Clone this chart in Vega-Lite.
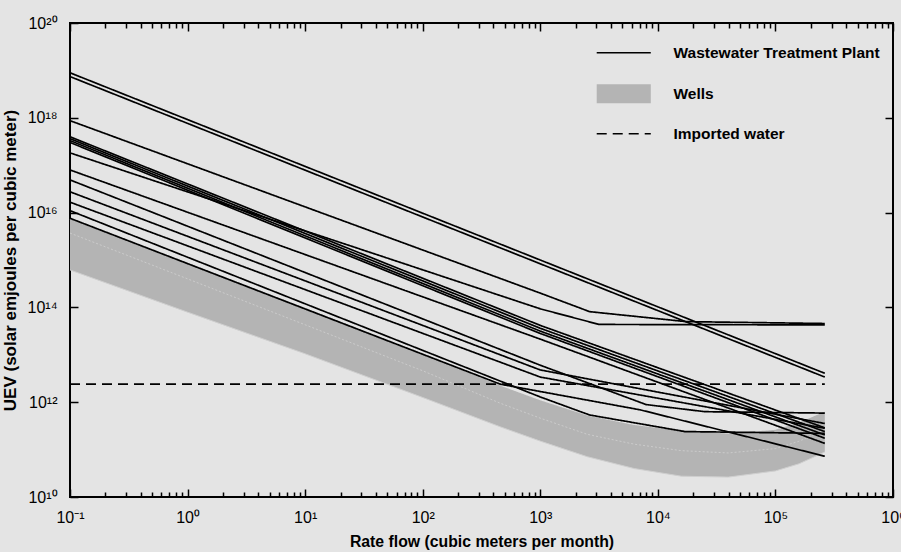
{
  "$schema": "https://vega.github.io/schema/vega-lite/v6.json",
  "width": 823,
  "height": 474,
  "autosize": {"type": "none"},
  "padding": {"left": 70, "top": 23, "right": 8, "bottom": 55},
  "background": "#e4e4e4",
  "config": {
    "view": {"stroke": "black", "strokeWidth": 2, "fill": "#e4e4e4"},
    "font": "Liberation Sans, Arial, sans-serif",
    "axis": {"domain": false, "grid": false, "tickColor": "black", "tickWidth": 1.5, "labelColor": "black", "titleColor": "black", "labelOverlap": false, "labelFlush": false}
  },
  "datasets": {
    "band": [
      {"x": 0.1, "lo": 6.17e14, "hi": 7.24e15, "streak": 3.7e15},
      {"x": 1, "lo": 7.94e13, "hi": 8.32e14, "streak": 4.0e14},
      {"x": 10, "lo": 1.05e13, "hi": 9.33e13, "streak": 4.3e13},
      {"x": 100, "lo": 1.26e12, "hi": 1.0e13, "streak": 4.6e12},
      {"x": 457, "lo": 3.02e11, "hi": 2.14e12, "streak": 9.5e11},
      {"x": 1000, "lo": 1.51e11, "hi": 1.05e12, "streak": 4.6e11},
      {"x": 2512, "lo": 7.08e10, "hi": 5.01e11, "streak": 2.1e11},
      {"x": 6310, "lo": 3.98e10, "hi": 3.16e11, "streak": 1.3e11},
      {"x": 15850, "lo": 2.75e10, "hi": 2.4e11, "streak": 9.5e10},
      {"x": 39810, "lo": 2.63e10, "hi": 2.09e11, "streak": 8.5e10},
      {"x": 100000, "lo": 3.55e10, "hi": 2.51e11, "streak": 1.05e11},
      {"x": 158500, "lo": 5.01e10, "hi": 3.55e11, "streak": 1.5e11},
      {"x": 263000, "lo": 8.91e10, "hi": 6.03e11, "streak": 2.6e11}
    ],
    "lines": [
      {"series": "Wells", "id": "W1", "x": 0.1, "y": 7.24e15},
      {"series": "Wells", "id": "W1", "x": 1, "y": 8.32e14},
      {"series": "Wells", "id": "W1", "x": 10, "y": 9.33e13},
      {"series": "Wells", "id": "W1", "x": 100, "y": 1.0e13},
      {"series": "Wells", "id": "W1", "x": 457, "y": 2.14e12},
      {"series": "Wells", "id": "W1", "x": 1000, "y": 1.05e12},
      {"series": "Wells", "id": "W1", "x": 2512, "y": 5.01e11},
      {"series": "Wells", "id": "W1", "x": 6310, "y": 3.16e11},
      {"series": "Wells", "id": "W1", "x": 15850, "y": 2.4e11},
      {"series": "Wells", "id": "W1", "x": 39810, "y": 2.09e11},
      {"series": "Wells", "id": "W1", "x": 100000, "y": 2.51e11},
      {"series": "Wells", "id": "W1", "x": 158500, "y": 3.55e11},
      {"series": "Wells", "id": "W1", "x": 263000, "y": 6.03e11},
      {"series": "Imported water", "id": "IW", "x": 0.1, "y": 2.4e12},
      {"series": "Imported water", "id": "IW", "x": 263000, "y": 2.4e12},
      {"series": "Wastewater Treatment Plant", "id": "L1", "x": 0.1, "y": 8.91e18},
      {"series": "Wastewater Treatment Plant", "id": "L1", "x": 263000, "y": 4.07e12},
      {"series": "Wastewater Treatment Plant", "id": "L2", "x": 0.1, "y": 7.41e18},
      {"series": "Wastewater Treatment Plant", "id": "L2", "x": 263000, "y": 3.39e12},
      {"series": "Wastewater Treatment Plant", "id": "L3", "x": 0.1, "y": 8.71e17},
      {"series": "Wastewater Treatment Plant", "id": "L3", "x": 1000, "y": 2.0e14},
      {"series": "Wastewater Treatment Plant", "id": "L3", "x": 2630, "y": 8.13e13},
      {"series": "Wastewater Treatment Plant", "id": "L3", "x": 17400, "y": 5.01e13},
      {"series": "Wastewater Treatment Plant", "id": "L3", "x": 263000, "y": 4.57e13},
      {"series": "Wastewater Treatment Plant", "id": "L8", "x": 0.1, "y": 1.82e17},
      {"series": "Wastewater Treatment Plant", "id": "L8", "x": 1000, "y": 9.33e13},
      {"series": "Wastewater Treatment Plant", "id": "L8", "x": 3160, "y": 4.37e13},
      {"series": "Wastewater Treatment Plant", "id": "L8", "x": 263000, "y": 4.27e13},
      {"series": "Wastewater Treatment Plant", "id": "B1", "x": 0.1, "y": 3.98e17},
      {"series": "Wastewater Treatment Plant", "id": "B1", "x": 1000, "y": 4.17e13},
      {"series": "Wastewater Treatment Plant", "id": "B1", "x": 263000, "y": 2.88e11},
      {"series": "Wastewater Treatment Plant", "id": "B2", "x": 0.1, "y": 3.63e17},
      {"series": "Wastewater Treatment Plant", "id": "B2", "x": 1000, "y": 3.63e13},
      {"series": "Wastewater Treatment Plant", "id": "B2", "x": 263000, "y": 2.4e11},
      {"series": "Wastewater Treatment Plant", "id": "B3", "x": 0.1, "y": 3.31e17},
      {"series": "Wastewater Treatment Plant", "id": "B3", "x": 1000, "y": 3.16e13},
      {"series": "Wastewater Treatment Plant", "id": "B3", "x": 263000, "y": 2.04e11},
      {"series": "Wastewater Treatment Plant", "id": "B4", "x": 0.1, "y": 3.02e17},
      {"series": "Wastewater Treatment Plant", "id": "B4", "x": 1000, "y": 2.82e13},
      {"series": "Wastewater Treatment Plant", "id": "B4", "x": 263000, "y": 1.74e11},
      {"series": "Wastewater Treatment Plant", "id": "L9", "x": 0.1, "y": 7.94e16},
      {"series": "Wastewater Treatment Plant", "id": "L9", "x": 1000, "y": 2.14e13},
      {"series": "Wastewater Treatment Plant", "id": "L9", "x": 263000, "y": 1.35e11},
      {"series": "Wastewater Treatment Plant", "id": "L10", "x": 0.1, "y": 4.9e16},
      {"series": "Wastewater Treatment Plant", "id": "L10", "x": 1000, "y": 6.03e12},
      {"series": "Wastewater Treatment Plant", "id": "L10", "x": 7940, "y": 8.91e11},
      {"series": "Wastewater Treatment Plant", "id": "L10", "x": 25100, "y": 6.31e11},
      {"series": "Wastewater Treatment Plant", "id": "L10", "x": 263000, "y": 5.89e11},
      {"series": "Wastewater Treatment Plant", "id": "L11", "x": 0.1, "y": 2.75e16},
      {"series": "Wastewater Treatment Plant", "id": "L11", "x": 1000, "y": 4.79e12},
      {"series": "Wastewater Treatment Plant", "id": "L11", "x": 263000, "y": 3.55e11},
      {"series": "Wastewater Treatment Plant", "id": "L12", "x": 0.1, "y": 1.66e16},
      {"series": "Wastewater Treatment Plant", "id": "L12", "x": 1000, "y": 3.39e12},
      {"series": "Wastewater Treatment Plant", "id": "L12", "x": 263000, "y": 2.82e11},
      {"series": "Wastewater Treatment Plant", "id": "L14", "x": 0.1, "y": 1.1e16},
      {"series": "Wastewater Treatment Plant", "id": "L14", "x": 1000, "y": 1.29e12},
      {"series": "Wastewater Treatment Plant", "id": "L14", "x": 2630, "y": 5.37e11},
      {"series": "Wastewater Treatment Plant", "id": "L14", "x": 17000, "y": 2.4e11},
      {"series": "Wastewater Treatment Plant", "id": "L14", "x": 263000, "y": 2.2e11},
      {"series": "Wastewater Treatment Plant", "id": "L13", "x": 0.1, "y": 7.59e15},
      {"series": "Wastewater Treatment Plant", "id": "L13", "x": 457, "y": 2.4e12},
      {"series": "Wastewater Treatment Plant", "id": "L13", "x": 7080, "y": 6.9e11},
      {"series": "Wastewater Treatment Plant", "id": "L13", "x": 263000, "y": 7.24e10}
    ]
  },
  "layer": [
    {
      "data": {"name": "band"},
      "mark": {"type": "area", "color": "#b4b4b4"},
      "encoding": {
        "x": {
          "field": "x", "type": "quantitative",
          "scale": {"type": "log", "domain": [0.1, 1000000], "nice": false},
          "axis": {
            "orient": "bottom",
            "title": "Rate flow (cubic meters per month)",
            "titleFontSize": 15.8, "titleFontWeight": "bold", "titlePadding": 6,
            "values": [0.1,0.2,0.3,0.4,0.5,0.6,0.7,0.8,0.9,1,2,3,4,5,6,7,8,9,10,20,30,40,50,60,70,80,90,100,200,300,400,500,600,700,800,900,1000,2000,3000,4000,5000,6000,7000,8000,9000,10000,20000,30000,40000,50000,60000,70000,80000,90000,100000,200000,300000,400000,500000,600000,700000,800000,900000,1000000],
            "labelExpr": "abs(log(datum.value)/LN10 - round(log(datum.value)/LN10)) < 0.001 ? '10' + ['⁻¹','⁰','¹','²','³','⁴','⁵','⁶'][round(log(datum.value)/LN10) + 1] : ''",
            "labelFontSize": 16, "labelPadding": 20,
            "tickSize": {"condition": {"test": "abs(log(datum.value)/LN10 - round(log(datum.value)/LN10)) < 0.001", "value": -8}, "value": -5}
          }
        },
        "y": {
          "field": "lo", "type": "quantitative",
          "scale": {"type": "log", "domain": [1e10, 1e20], "nice": false},
          "axis": {
            "orient": "left",
            "title": "UEV (solar emjoules per cubic meter)",
            "titleFontSize": 17, "titleFontWeight": "bold", "titlePadding": 8,
            "values": [1e10, 1e12, 1e14, 1e16, 1e18, 1e20],
            "labelExpr": "'10' + ['¹⁰','¹²','¹⁴','¹⁶','¹⁸','²⁰'][(round(log(datum.value)/LN10) - 10) / 2]",
            "labelFontSize": 16, "labelPadding": 21,
            "tickSize": -8
          }
        },
        "y2": {"field": "hi"}
      }
    },
    {
      "data": {"name": "band"},
      "mark": {"type": "line", "color": "#cdcdcd", "strokeWidth": 0.9, "strokeDash": [2, 2]},
      "encoding": {
        "x": {"field": "x", "type": "quantitative", "scale": {"type": "log", "domain": [0.1, 1000000], "nice": false}, "axis": null},
        "y": {"field": "streak", "type": "quantitative", "scale": {"type": "log", "domain": [1e10, 1e20], "nice": false}, "axis": null}
      }
    },
    {
      "data": {"name": "band"},
      "mark": {"type": "line", "color": "#cfcfcf", "strokeWidth": 1},
      "encoding": {
        "x": {"field": "x", "type": "quantitative", "scale": {"type": "log", "domain": [0.1, 1000000], "nice": false}, "axis": null},
        "y": {"field": "lo", "type": "quantitative", "scale": {"type": "log", "domain": [1e10, 1e20], "nice": false}, "axis": null}
      }
    },
    {
      "data": {"name": "lines"},
      "mark": {"type": "line", "strokeWidth": 1.7},
      "encoding": {
        "x": {
          "field": "x", "type": "quantitative",
          "scale": {"type": "log", "domain": [0.1, 1000000], "nice": false},
          "axis": {
            "orient": "top", "title": null, "labels": false,
            "values": [0.1,0.2,0.3,0.4,0.5,0.6,0.7,0.8,0.9,1,2,3,4,5,6,7,8,9,10,20,30,40,50,60,70,80,90,100,200,300,400,500,600,700,800,900,1000,2000,3000,4000,5000,6000,7000,8000,9000,10000,20000,30000,40000,50000,60000,70000,80000,90000,100000,200000,300000,400000,500000,600000,700000,800000,900000,1000000],
            "tickSize": {"condition": {"test": "abs(log(datum.value)/LN10 - round(log(datum.value)/LN10)) < 0.001", "value": -8}, "value": -5}
          }
        },
        "y": {
          "field": "y", "type": "quantitative",
          "scale": {"type": "log", "domain": [1e10, 1e20], "nice": false},
          "axis": {"orient": "right", "title": null, "labels": false, "values": [1e10, 1e12, 1e14, 1e16, 1e18, 1e20], "tickSize": -8}
        },
        "detail": {"field": "id"},
        "color": {
          "field": "series", "type": "nominal",
          "scale": {"domain": ["Wastewater Treatment Plant", "Wells", "Imported water"], "range": ["#000000", "#b4b4b4", "#000000"]},
          "legend": {
            "title": null, "orient": "none", "legendX": 546, "legendY": 22,
            "symbolType": "M-1.71,0H1.71", "symbolSize": 1000, "symbolStrokeWidth": 1.7,
            "labelFontSize": 15.5, "labelFontWeight": "bold", "labelColor": "black", "labelOffset": 42, "labelLimit": 400,
            "rowPadding": 22, "padding": 0,
            "encode": {"symbols": {"update": {
              "shape": {"signal": "datum.value === 'Wells' ? 'M-1.71,-0.6H1.71V0.6H-1.71Z' : 'M-1.71,0H1.71'"},
              "fill": {"signal": "datum.value === 'Wells' ? '#b4b4b4' : 'transparent'"},
              "strokeWidth": {"signal": "datum.value === 'Wells' ? 0 : 1.7"}
            }}}
          }
        },
        "strokeDash": {
          "field": "series", "type": "nominal",
          "scale": {"domain": ["Wastewater Treatment Plant", "Wells", "Imported water"], "range": [[1, 0], [1, 0], [10, 6]]},
          "legend": {
            "title": null, "orient": "none", "legendX": 546, "legendY": 22,
            "symbolType": "M-1.71,0H1.71", "symbolSize": 1000, "symbolStrokeWidth": 1.7,
            "labelFontSize": 15.5, "labelFontWeight": "bold", "labelColor": "black", "labelOffset": 42, "labelLimit": 400,
            "rowPadding": 22, "padding": 0,
            "encode": {"symbols": {"update": {
              "shape": {"signal": "datum.value === 'Wells' ? 'M-1.71,-0.6H1.71V0.6H-1.71Z' : 'M-1.71,0H1.71'"},
              "fill": {"signal": "datum.value === 'Wells' ? '#b4b4b4' : 'transparent'"},
              "strokeWidth": {"signal": "datum.value === 'Wells' ? 0 : 1.7"}
            }}}
          }
        }
      }
    }
  ],
  "resolve": {"axis": {"x": "independent", "y": "independent"}}
}
